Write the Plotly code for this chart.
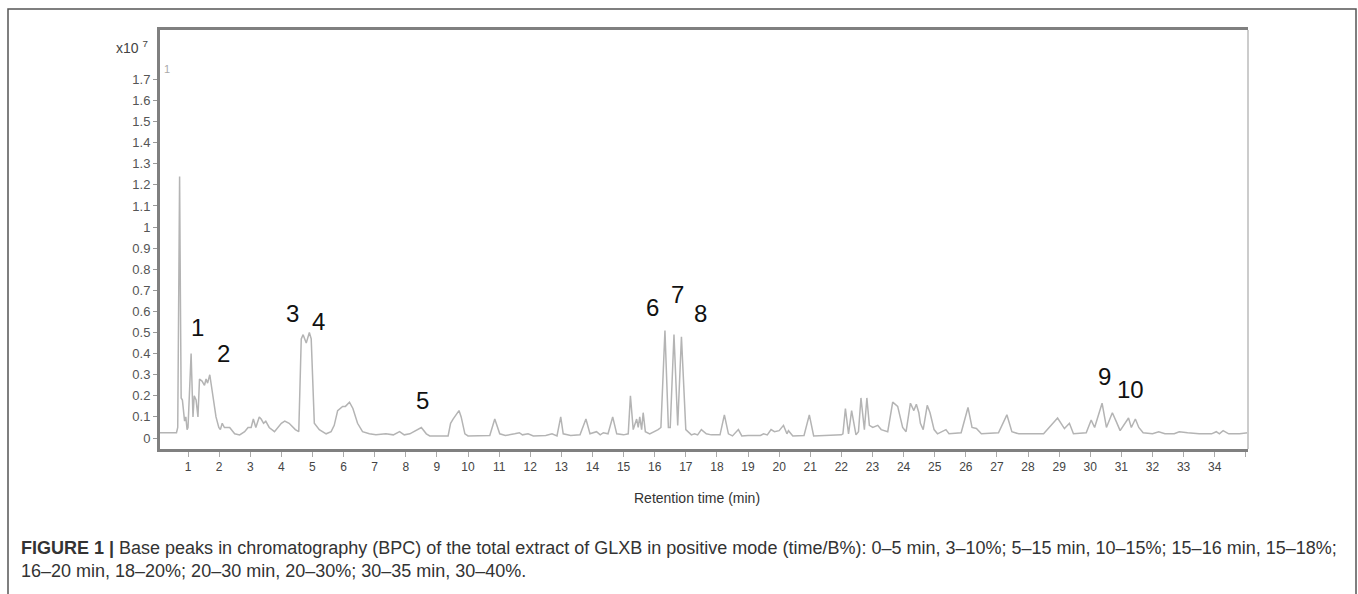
import plotly.graph_objects as go

# ---- data ----
bpc = [(0.10,0.025),(0.40,0.024),(0.63,0.025),(0.67,0.05),(0.70,0.69),(0.73,1.24),(0.755,0.68),(0.78,0.19),
       (0.82,0.18),(0.86,0.10),(0.89,0.08),(0.93,0.10),(0.97,0.04),(1.00,0.05),(1.05,0.20),(1.10,0.40),
       (1.12,0.30),(1.16,0.10),(1.20,0.20),(1.26,0.18),(1.32,0.10),(1.37,0.28),(1.45,0.27),(1.53,0.25),
       (1.58,0.28),(1.63,0.26),(1.70,0.30),(1.80,0.20),(1.90,0.10),(1.99,0.05),(2.04,0.04),(2.10,0.07),
       (2.17,0.05),(2.34,0.05),(2.50,0.02),(2.66,0.015),(2.82,0.03),(2.93,0.05),(3.03,0.05),(3.10,0.09),
       (3.18,0.05),(3.29,0.10),(3.35,0.09),(3.43,0.07),(3.50,0.08),(3.61,0.05),(3.78,0.03),(4.00,0.07),
       (4.11,0.08),(4.25,0.07),(4.45,0.04),(4.56,0.03),(4.64,0.47),(4.70,0.49),(4.80,0.45),(4.90,0.50),
       (4.96,0.47),(5.06,0.07),(5.22,0.04),(5.44,0.02),(5.60,0.03),(5.70,0.06),(5.81,0.13),(5.97,0.15),
       (6.06,0.15),(6.19,0.17),(6.30,0.14),(6.45,0.07),(6.61,0.03),(6.83,0.02),(7.04,0.015),(7.36,0.02),
       (7.60,0.015),(7.80,0.03),(7.95,0.015),(8.13,0.02),(8.24,0.03),(8.34,0.035),(8.50,0.05),(8.66,0.02),
       (8.77,0.01),(9.36,0.01),(9.44,0.07),(9.52,0.09),(9.62,0.11),(9.71,0.13),(9.78,0.10),(9.90,0.02),
       (10.0,0.01),(10.70,0.012),(10.86,0.09),(11.02,0.02),(11.20,0.012),(11.40,0.015),(11.50,0.02),
       (11.65,0.025),(11.75,0.015),(11.93,0.02),(12.10,0.01),(12.50,0.012),(12.70,0.02),(12.86,0.01),
       (12.98,0.10),(13.06,0.02),(13.30,0.012),(13.60,0.015),(13.79,0.09),(13.92,0.02),(14.13,0.03),
       (14.25,0.015),(14.35,0.025),(14.50,0.02),(14.65,0.10),(14.78,0.02),(15.00,0.015),(15.15,0.02),
       (15.22,0.20),(15.31,0.04),(15.42,0.09),(15.47,0.05),(15.52,0.10),(15.58,0.04),(15.63,0.12),
       (15.70,0.03),(15.84,0.02),(16.11,0.04),(16.20,0.05),(16.33,0.51),(16.44,0.05),(16.50,0.05),
       (16.62,0.49),(16.74,0.06),(16.86,0.48),(17.00,0.04),(17.18,0.015),(17.28,0.02),(17.38,0.015),
       (17.50,0.04),(17.66,0.02),(17.82,0.015),(18.10,0.015),(18.24,0.11),(18.37,0.02),(18.50,0.01),
       (18.69,0.04),(18.80,0.01),(19.00,0.012),(19.40,0.012),(19.50,0.02),(19.62,0.015),(19.74,0.04),
       (19.85,0.03),(20.00,0.035),(20.14,0.06),(20.25,0.02),(20.30,0.035),(20.44,0.01),(20.80,0.012),
       (20.97,0.11),(21.11,0.01),(21.50,0.012),(22.00,0.015),(22.05,0.02),(22.13,0.14),(22.23,0.02),
       (22.33,0.13),(22.47,0.015),(22.55,0.03),(22.63,0.19),(22.74,0.04),(22.82,0.19),(22.90,0.06),
       (23.01,0.05),(23.17,0.06),(23.28,0.04),(23.38,0.035),(23.49,0.03),(23.65,0.17),(23.81,0.15),
       (23.97,0.05),(24.08,0.03),(24.22,0.165),(24.33,0.13),(24.41,0.16),(24.49,0.12),(24.54,0.07),
       (24.63,0.04),(24.76,0.155),(24.85,0.12),(24.98,0.04),(25.09,0.02),(25.36,0.04),(25.46,0.02),
       (25.85,0.025),(26.07,0.145),(26.20,0.05),(26.34,0.045),(26.50,0.02),(27.05,0.025),(27.32,0.11),
       (27.48,0.03),(27.70,0.02),(28.50,0.02),(28.95,0.095),(29.17,0.045),(29.33,0.07),(29.46,0.02),
       (29.87,0.025),(30.03,0.085),(30.14,0.05),(30.25,0.10),(30.38,0.165),(30.52,0.05),(30.71,0.12),
       (30.83,0.08),(30.96,0.035),(31.23,0.095),(31.32,0.05),(31.45,0.09),(31.56,0.05),(31.70,0.025),
       (32.00,0.02),(32.20,0.03),(32.40,0.02),(32.70,0.02),(32.86,0.03),(33.13,0.025),(33.50,0.02),
       (33.90,0.02),(34.05,0.03),(34.15,0.02),(34.27,0.035),(34.45,0.02),(34.80,0.02),(35.07,0.025)]
time_min = [p[0] for p in bpc]
intensity = [p[1] for p in bpc]

peak_labels = ["1", "2", "3", "4", "5", "6", "7", "8", "9", "10"]
peak_label_x = [1.29, 2.13, 4.37, 5.21, 8.55, 15.92, 16.72, 17.46, 30.45, 31.30]
peak_label_y = [0.526, 0.403, 0.59, 0.55, 0.18, 0.62, 0.68, 0.59, 0.29, 0.23]

y_tick_vals = [round(i * 0.1, 1) for i in range(18)]
y_tick_text = ["0", "0.1", "0.2", "0.3", "0.4", "0.5", "0.6", "0.7", "0.8", "0.9",
               "1", "1.1", "1.2", "1.3", "1.4", "1.5", "1.6", "1.7"]
x_tick_vals = list(range(1, 35))
x_tick_text = [str(i) for i in range(1, 35)]

caption = ("<b>FIGURE 1 |</b> Base peaks in chromatography (BPC) of the total extract of GLXB in positive mode "
           "(time/B%): 0–5 min, 3–10%; 5–15 min, 10–15%; 15–16 min, 15–18%;<br>"
           "16–20 min, 18–20%; 20–30 min, 20–30%; 30–35 min, 30–40%.")

# ---- layout geometry (pixels) ----
W, H = 1358, 594
L, R, T, B = 160, 1248, 30, 449

def px(x):
    return (x - L) / (R - L)

def py(y):
    return (B - y) / (B - T)

fig = go.Figure()
fig.add_trace(go.Scatter(x=time_min, y=intensity, mode="lines",
                         line=dict(color="#b4b4b4", width=1.5), hoverinfo="skip", showlegend=False))

for lab, lx, ly in zip(peak_labels, peak_label_x, peak_label_y):
    fig.add_annotation(x=lx, y=ly, xref="x", yref="y", text=lab, showarrow=False,
                       font=dict(family="Liberation Sans, Arial, sans-serif", size=24, color="#111111"))

fig.add_annotation(x=px(150), y=py(47), xref="paper", yref="paper", xanchor="right", yanchor="middle",
                   text="x10 <sup>7</sup>", showarrow=False,
                   font=dict(family="Liberation Sans, Arial, sans-serif", size=14, color="#444444"))
fig.add_annotation(x=px(162), y=py(69), xref="paper", yref="paper", xanchor="left", yanchor="middle",
                   text="1", showarrow=False,
                   font=dict(family="Liberation Sans, Arial, sans-serif", size=11, color="#aaaaaa"))
fig.add_annotation(x=px(697), y=py(498), xref="paper", yref="paper", xanchor="center", yanchor="middle",
                   text="Retention time (min)", showarrow=False,
                   font=dict(family="Liberation Sans, Arial, sans-serif", size=14, color="#333333"))
fig.add_annotation(x=px(19), y=py(559), xref="paper", yref="paper", xanchor="left", yanchor="middle",
                   text=caption, showarrow=False, align="left",
                   font=dict(family="Liberation Sans Narrow, Arial Narrow, Liberation Sans, sans-serif",
                             size=18, color="#333333"))

# outer frame
fig.add_shape(type="rect", xref="paper", yref="paper", x0=px(8), x1=px(1356), y0=py(610), y1=py(9),
              line=dict(color="#555555", width=1.5), fillcolor="rgba(0,0,0,0)", layer="below")
# light right border of the plot
fig.add_shape(type="line", xref="paper", yref="paper", x0=1, x1=1, y0=0, y1=1,
              line=dict(color="#cccccc", width=2))

fig.update_layout(
    width=W, height=H, margin=dict(l=L, r=W - R, t=T, b=H - B),
    paper_bgcolor="white", plot_bgcolor="white",
    font=dict(family="Liberation Sans, Arial, sans-serif", color="#444444"),
    xaxis=dict(range=[0.1, 35.07], tickvals=x_tick_vals, ticktext=x_tick_text,
               showgrid=False, zeroline=False, showline=True, linecolor="#808080", linewidth=3,
               mirror=True, ticks="outside", ticklen=5, tickcolor="#aaaaaa", tickwidth=1,
               tickfont=dict(size=12, color="#444444"),
               minor=dict(tickmode="array", tickvals=[35], ticks="outside", ticklen=5,
                          tickcolor="#aaaaaa", tickwidth=1, showgrid=False)),
    yaxis=dict(range=[-0.052, 1.934], tickvals=y_tick_vals, ticktext=y_tick_text,
               showgrid=False, zeroline=False, showline=True, linecolor="#808080", linewidth=3,
               mirror=False, ticks="outside", ticklen=4, tickcolor="#999999", tickwidth=1,
               tickfont=dict(size=13, color="#555555")),
)

fig.write_html("out.html")
